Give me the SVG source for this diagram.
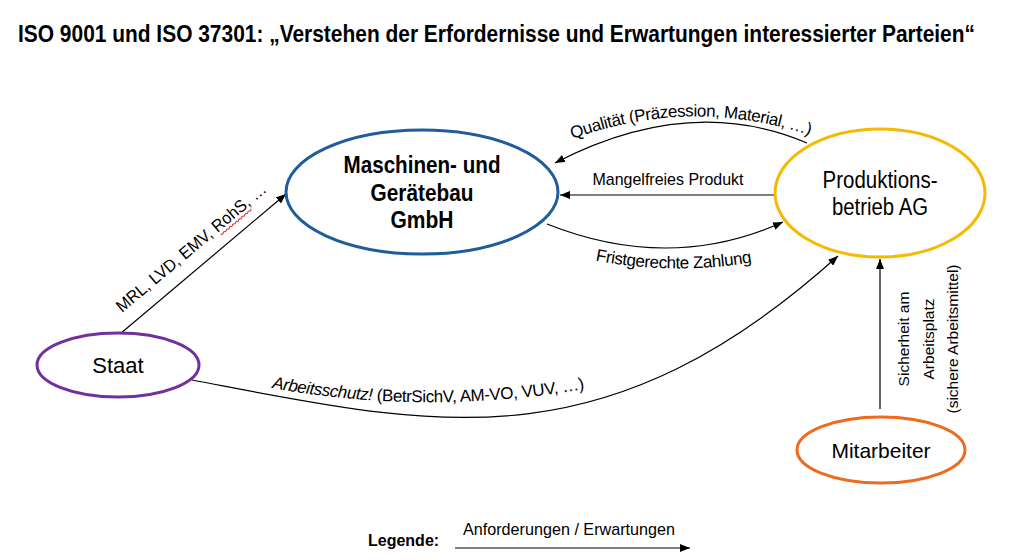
<svg xmlns="http://www.w3.org/2000/svg" width="1015" height="560" viewBox="0 0 1015 560">
<style>
text{font-family:"Liberation Sans",Arial,sans-serif;fill:#000}
.title{font-size:21px;font-weight:bold}
.node{fill:#fff;stroke-width:3}
.nt{font-size:23px;text-anchor:middle}
.lab{font-size:16px}
.pl{font-size:17px;letter-spacing:-0.4px}
.edge{fill:none;stroke:#000;stroke-width:1.2}
</style>
<defs>
<marker id="ah" viewBox="0 0 10 8" refX="10" refY="4" markerWidth="10" markerHeight="8" markerUnits="userSpaceOnUse" orient="auto">
<path d="M0,0 L10,4 L0,8 z" fill="#000"/>
</marker>
<path id="pQual" d="M570,140 Q690,95 812,136"/>
<path id="pFrist" d="M593,260 Q673,276 754,262"/>
<path id="pArb" d="M266,387 Q428,417 590,388"/>
</defs>
<rect width="1015" height="560" fill="#fff"/>
<g transform="translate(18,42) scale(1,1.1)">
<text class="title" x="0" y="0" textLength="957" lengthAdjust="spacingAndGlyphs">ISO 9001 und ISO 37301: „Verstehen der Erfordernisse und Erwartungen interessierter Parteien“</text>
</g>

<g id="connectors">
<line class="edge" x1="120" y1="334" x2="286" y2="194" marker-end="url(#ah)"/>
<g transform="translate(122,313) rotate(-40)">
<text class="lab" style="font-size:17px" x="0" y="0" textLength="190" lengthAdjust="spacingAndGlyphs">MRL, LVD, EMV, RohS, …</text>
<path d="M126,3 l2,1.5 l2,-1.5 l2,1.5 l2,-1.5 l2,1.5 l2,-1.5 l2,1.5 l2,-1.5 l2,1.5 l2,-1.5 l2,1.5 l2,-1.5 l2,1.5 l2,-1.5 l2,1.5 l2,-1.5 l2,1.5 l2,-1.5 l2,1.5 l2,-1.5" fill="none" stroke="#e02020" stroke-width="0.9"/>
</g>
<path class="edge" d="M807,143 Q690,93 555,163" marker-end="url(#ah)"/>
<text class="pl"><textPath href="#pQual" startOffset="50%" text-anchor="middle">Qualität (Präzession, Material, …)</textPath></text>
<line class="edge" x1="777" y1="195" x2="560" y2="195" marker-end="url(#ah)"/>
<text class="lab" style="font-size:17px" x="668" y="185" text-anchor="middle" textLength="151" lengthAdjust="spacingAndGlyphs">Mangelfreies Produkt</text>
<path class="edge" d="M547,224 Q670,273 783,222" marker-end="url(#ah)"/>
<text class="pl"><textPath href="#pFrist" startOffset="50%" text-anchor="middle">Fristgerechte Zahlung</textPath></text>
<path class="edge" d="M192,380 C430,425 600,470 838,256" marker-end="url(#ah)"/>
<text class="pl"><textPath href="#pArb" startOffset="50%" text-anchor="middle"><tspan font-style="italic">Arbeitsschutz!</tspan> (BetrSichV, AM-VO, VUV, …)</textPath></text>
<line class="edge" x1="880" y1="409" x2="880" y2="259" marker-end="url(#ah)"/>
<g transform="translate(0,339) rotate(-90)">
<text class="lab" style="font-size:15.5px" text-anchor="middle" x="0" y="909">Sicherheit am</text>
<text class="lab" style="font-size:15.5px" text-anchor="middle" x="0" y="934">Arbeitsplatz</text>
<text class="lab" style="font-size:15.5px" text-anchor="middle" x="0" y="958">(sichere Arbeitsmittel)</text>
</g>
</g>

<g id="node-maschinen">
<ellipse class="node" cx="422" cy="192" rx="136" ry="62" stroke="#1F5C99"/>
<text class="nt" font-weight="bold" x="422" y="173" textLength="157" lengthAdjust="spacingAndGlyphs">Maschinen- und</text>
<text class="nt" font-weight="bold" x="422" y="201" textLength="103" lengthAdjust="spacingAndGlyphs">Gerätebau</text>
<text class="nt" font-weight="bold" x="422" y="228" textLength="63" lengthAdjust="spacingAndGlyphs">GmbH</text>
</g>
<g id="node-produktion">
<ellipse class="node" cx="880" cy="193" rx="105" ry="64" stroke="#F7B800"/>
<text class="nt" x="880" y="188" textLength="115" lengthAdjust="spacingAndGlyphs">Produktions-</text>
<text class="nt" x="880" y="215" textLength="96" lengthAdjust="spacingAndGlyphs">betrieb AG</text>
</g>
<g id="node-staat">
<ellipse class="node" cx="118" cy="365" rx="81" ry="32" stroke="#7030A0"/>
<text class="nt" style="font-size:22px" x="118" y="373">Staat</text>
</g>
<g id="node-mitarbeiter">
<ellipse class="node" cx="881" cy="450" rx="84" ry="33" stroke="#EE6A1E"/>
<text class="nt" style="font-size:21px" x="881" y="458">Mitarbeiter</text>
</g>

<g id="legend">
<text x="368" y="546" style="font-size:16px;font-weight:bold">Legende:</text>
<text x="463" y="535" class="lab" style="font-size:17px" textLength="212" lengthAdjust="spacingAndGlyphs">Anforderungen / Erwartungen</text>
<line class="edge" x1="455" y1="548" x2="690" y2="548" marker-end="url(#ah)"/>
</g>
</svg>
